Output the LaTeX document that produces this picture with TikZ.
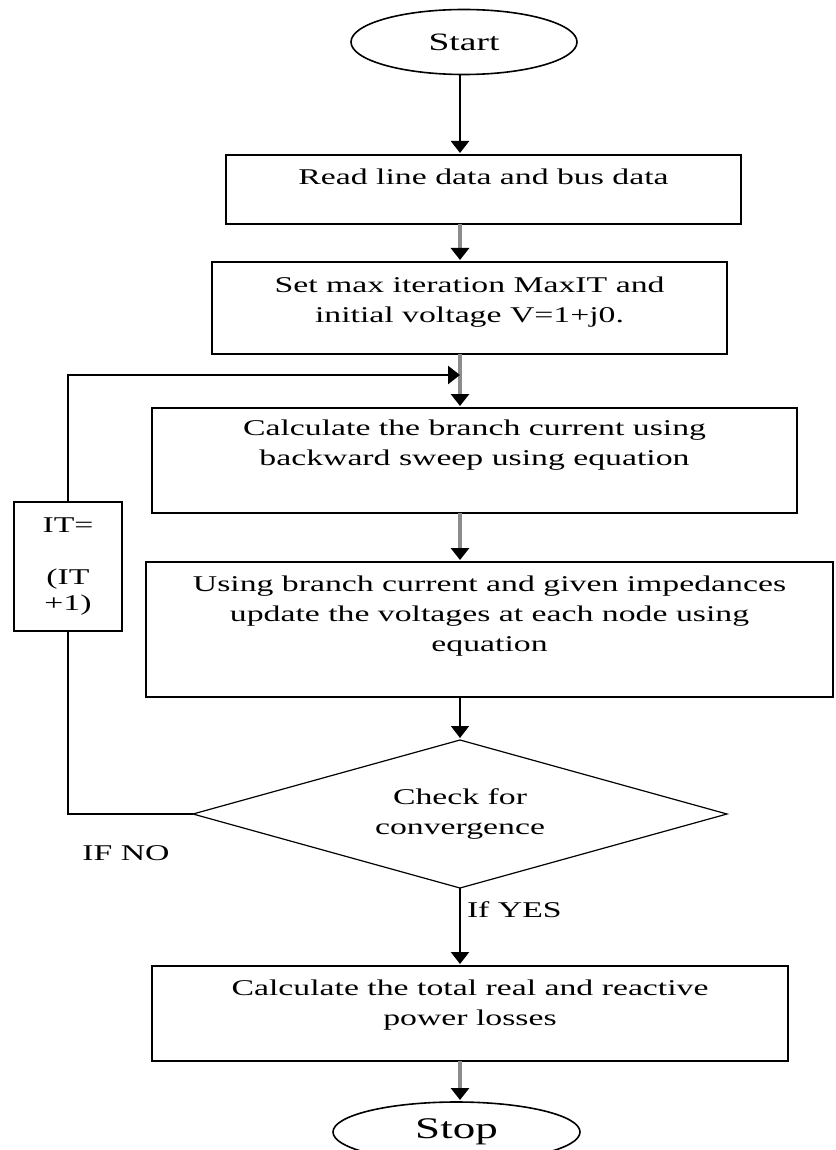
\documentclass[tikz,border=0pt]{standalone}
\usepackage{fontspec}
\setmainfont{Liberation Serif}[FakeStretch=1.5]
\usetikzlibrary{shapes.geometric,arrows.meta}
\definecolor{shaftgray}{RGB}{140,140,140}

\begin{document}
\begin{tikzpicture}[x=0.5pt,y=0.5pt]
		\tikzstyle{every node}+=[inner sep=0pt,outer sep=0pt,font=\fontsize{11.25}{15}\selectfont]
		\tikzstyle{box}=[draw,line width=1.2pt,align=center]
		\tikzstyle{oval}=[draw,ellipse,line width=0.8pt]
		\tikzstyle{flow}=[line width=1.1pt,shorten >=1pt,-{Triangle[width=9pt,length=6pt]}]
		\tikzstyle{grayflow}=[shaftgray,line width=1.6pt,shorten >=1pt,-{Triangle[width=9pt,length=6pt,color=black]}]
		\useasboundingbox (0,0) rectangle (835,-1150);
		\coordinate (spine) at (460,0);
		\node [oval,minimum width=113pt,minimum height=32.5pt,font=\fontsize{12.5}{15}\selectfont] (start) at (464,-42) {Start};
		\node [box,minimum width=257.5pt,minimum height=34.5pt,text depth=12.5pt] (read) at (483.5,-189.5) {Read line data and bus data};
		\node [box,minimum width=257.5pt,minimum height=46pt,text depth=8.4pt] (setv) at (469.5,-308) {Set max iteration MaxIT and\\initial voltage V=1+j0.};
		\node [box,minimum width=322.5pt,minimum height=52.5pt,text depth=17.4pt] (calc) at (474.5,-460.5) {Calculate the branch current using\\backward sweep using equation};
		\node [box,minimum width=343.5pt,minimum height=67.5pt,text depth=15.4pt] (upd) at (489.5,-629.5) {Using branch current and given impedances\\update the voltages at each node using\\equation};
		\node [draw,diamond,aspect=3.6,line width=0.6pt,minimum width=267pt,minimum height=74pt,align=center] (check) at (460,-814) {Check for\\convergence};
		\node [box,minimum width=318pt,minimum height=47.5pt,text depth=10.4pt] (total) at (470,-1013.5) {Calculate the total real and reactive\\power losses};
		\node [oval,minimum width=123.5pt,minimum height=30pt,font=\fontsize{15}{18}\selectfont] (stop) at (456.5,-1132) {Stop};
		\node [box,minimum width=54pt,minimum height=64.5pt,font=\fontsize{11.25}{13}\selectfont] (itbox) at (68,-566.5) {IT=\\[13pt](IT\\+1)};
		\node (ifno) at (126,-853) {IF NO};
		\node [anchor=west] (ifyes) at (467,-910) {If YES};
		\coordinate (loopin) at (460,-375);
		\draw [flow,line width=1.3pt] (start.south -| spine) -- (read.north -| spine);
		\draw [grayflow] (read.south -| spine) -- (setv.north -| spine);
		\draw [grayflow] (setv.south -| spine) -- (calc.north -| spine);
		\draw [grayflow] (calc.south -| spine) -- (upd.north -| spine);
		\draw [flow,line width=0.8pt] (upd.south -| spine) -- (check.north);
		\draw [flow] (check.south) -- (total.north -| spine);
		\draw [grayflow] (total.south -| spine) -- (stop.north -| spine);
		\draw [line width=1.3pt] (check.west) -| (itbox.south);
		\draw [flow,line width=1.3pt,shorten >=0pt] (itbox.north) |- (loopin);
	\end{tikzpicture}
\end{document}
